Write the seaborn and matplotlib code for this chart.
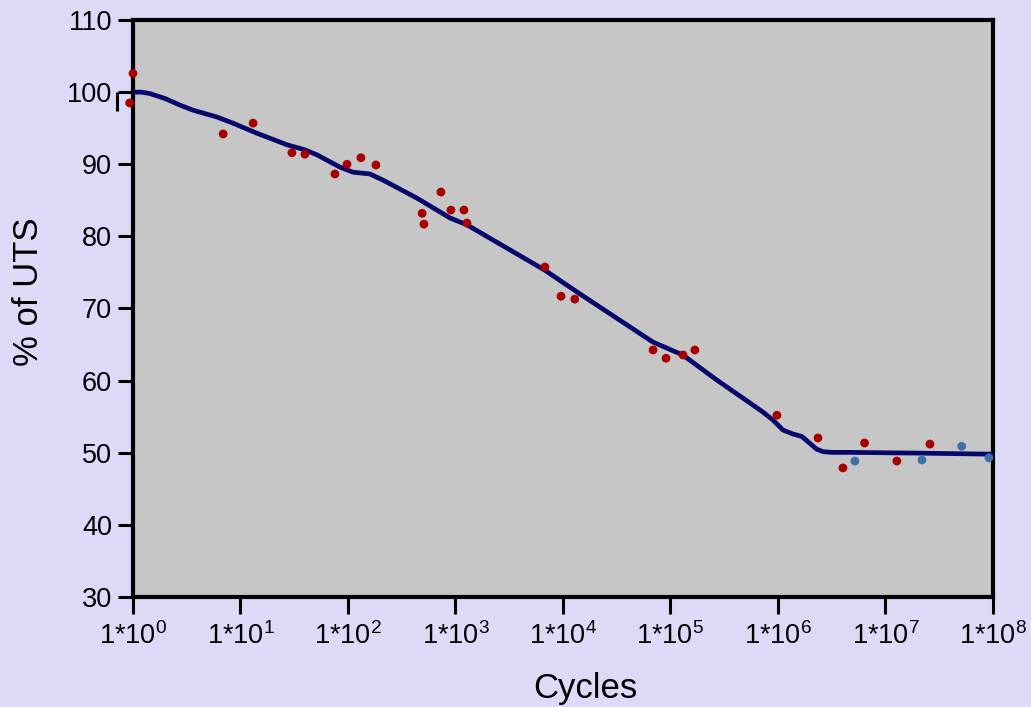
import numpy as np
import pandas as pd
import matplotlib
matplotlib.use('Agg')
import matplotlib.pyplot as plt
import seaborn as sns

# ---------------------------------------------------------------
# S-N fatigue data (cycles vs % of UTS)
# ---------------------------------------------------------------
red_cycles = [1.0, 0.93, 6.9, 13.1, 30.1, 39.8, 75.7, 98, 132, 182,
              490, 509, 733, 908, 1200, 1280, 6800, 9600, 12900,
              69000, 91000, 131000, 169000, 980000, 2.36e6, 4.03e6,
              6.4e6, 1.28e7, 2.6e7]
red_uts = [102.6, 98.5, 94.2, 95.7, 91.6, 91.4, 88.65, 90.0, 90.9, 89.9,
           83.2, 81.7, 86.15, 83.65, 83.65, 81.85, 75.75, 71.7, 71.3,
           64.25, 63.1, 63.55, 64.25, 55.2, 52.05, 47.9,
           51.35, 48.85, 51.2]

blue_cycles = [5.2e6, 2.19e7, 5.13e7, 9.2e7]
blue_uts = [48.85, 49.0, 50.9, 49.3]

# fitted curve
curve_log_cycles = [0.0, 0.08, 0.158, 0.3, 0.437, 0.558, 0.781, 0.93, 1.153,
                    1.433, 1.6, 1.712, 1.926, 2.047, 2.205, 2.326, 2.642,
                    2.95, 3.107, 3.833, 4.13, 4.837, 5.116, 5.43, 5.74, 5.86,
                    5.953, 6.047, 6.14, 6.223, 6.298, 6.36, 6.42, 6.5, 6.67,
                    7.293, 8.0]
curve_uts = [100.0, 100.0, 99.8, 99.1, 98.2, 97.5, 96.55, 95.7, 94.3,
             92.7, 92.0, 91.3, 89.6, 88.9, 88.65, 87.8, 85.3,
             82.55, 81.6, 75.3, 72.3, 65.35, 63.55, 60.1, 56.9, 55.65,
             54.55, 53.15, 52.6, 52.25, 51.3, 50.5, 50.15, 50.05, 50.05,
             49.95, 49.8]

decades = list(range(0, 9))
y_ticks = [30, 40, 50, 60, 70, 80, 90, 100, 110]

# ---------------------------------------------------------------
sns.set_style('ticks')
plt.rcParams['font.family'] = ['Liberation Sans', 'DejaVu Sans']
plt.rcParams['mathtext.fontset'] = 'custom'
plt.rcParams['mathtext.rm'] = 'Liberation Sans'

BG = '#DDDAF8'
fig = plt.figure(figsize=(10.31, 7.07), dpi=100, facecolor=BG)
ax = fig.add_axes([0.129, 0.1556, 0.834, 0.8161])
ax.set_facecolor('#C6C6C6')

pts = pd.DataFrame({
    'cycles': red_cycles + blue_cycles,
    'uts': red_uts + blue_uts,
    'group': ['failed'] * len(red_cycles) + ['runout'] * len(blue_cycles),
})
curve = pd.DataFrame({'cycles': [10 ** v for v in curve_log_cycles],
                      'uts': curve_uts})

sns.lineplot(data=curve, x='cycles', y='uts', ax=ax, color='#08086C',
             lw=3.4, sort=False, estimator=None, zorder=3)
sns.scatterplot(data=pts, x='cycles', y='uts', hue='group', ax=ax,
                palette={'failed': '#A80000', 'runout': '#3E6FA6'},
                s=40, linewidth=0, legend=False, zorder=4, clip_on=False)

ax.set_xscale('log')
ax.set_xlim(1, 1e8)
ax.set_ylim(30, 110)
ax.set_xticks([10 ** d for d in decades])
ax.set_xticklabels([r'1*10$^{%d}$' % d for d in decades], fontsize=19.5)
ax.xaxis.set_minor_locator(matplotlib.ticker.NullLocator())
ax.set_yticks(y_ticks)
ax.set_yticklabels([str(v) for v in y_ticks], fontsize=19.5)
ax.tick_params(axis='both', direction='out', width=2.2,
               color='black', labelcolor='black')
ax.tick_params(axis='x', length=12, pad=6)
ax.tick_params(axis='y', length=11, pad=4)

for sp in ax.spines.values():
    sp.set_visible(True)
    sp.set_color('black')
    sp.set_linewidth(3)

ax.set_xlabel('Cycles', fontsize=25, color='black')
ax.xaxis.set_label_coords(0.526, -0.13)
ax.set_ylabel('% of UTS', fontsize=25, color='black')
ax.yaxis.set_label_coords(-0.102, 0.529)

# small bracket next to the 100 tick
ax.plot([-0.019, -0.019], [100, 97.4], transform=ax.get_yaxis_transform(),
        color='black', lw=2.2, clip_on=False, solid_capstyle='butt')

plt.savefig('out.png', dpi=100, facecolor=BG)
plt.close()
